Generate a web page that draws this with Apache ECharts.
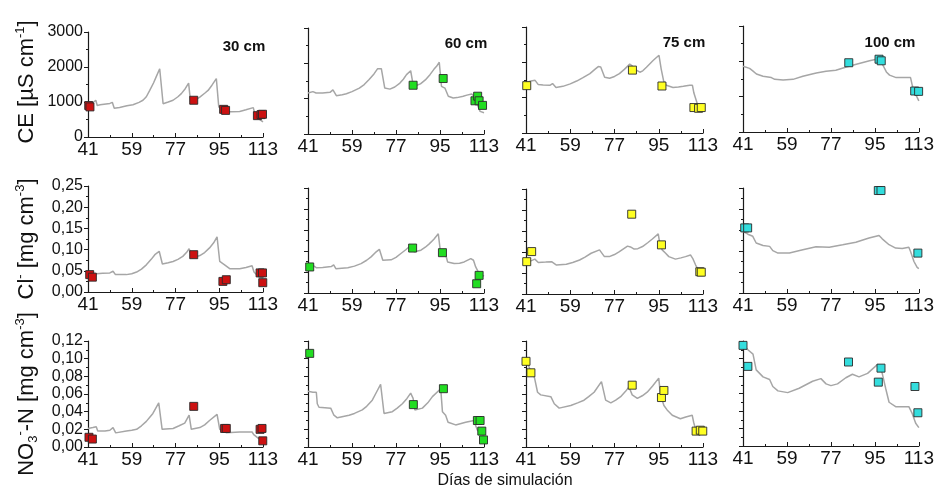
<!DOCTYPE html>
<html><head><meta charset="utf-8">
<script src="https://cdn.jsdelivr.net/npm/echarts@6/dist/echarts.min.js"></script>
<style>html,body{margin:0;padding:0;background:#fff}#c{width:937px;height:488px}</style>
</head><body><div id="c"></div>
<script>
// ---------- axis / tick values ----------
const xMin = 41, xMax = 113;
const xMajorTicks = [41, 59, 77, 95, 113];
const xMinorTicks = [50, 68, 86, 104];
const rowMax = [3000, 0.25, 0.12];
const rowInterval = [1000, 0.05, 0.02];
const depthLabels = ['30 cm', '60 cm', '75 cm', '100 cm'];
const xTitle = 'Días de simulación';

// ---------- CE (µS cm-1) ----------
const simCE30 = [[41,900],[43,980],[44.2,1050],[44.8,900],[46,920],[50,960],[51,990],[51.8,820],[54,840],[57,890],[59.5,920],[62,990],[63.6,1050],[65,1150],[66.4,1330],[68,1550],[69,1710],[70.5,1950],[71.9,950],[74,1000],[76,1050],[78,1150],[79.4,1240],[81,1380],[82.4,1540],[83.2,1000],[85,1050],[87,1140],[89,1250],[90.4,1330],[92,1480],[93.8,1670],[94.8,860],[96.6,760],[98,720],[100,720],[103.4,730],[106,780],[109,840],[109.6,670],[111,530],[113,430]];
const obsCE30 = [[41.3,900],[41.8,860],[84.5,1050],[96.8,790],[97.6,760],[110.7,610],[112.2,640],[112.8,650]];
const simCE60 = [[41,1160],[43,1200],[43.7,1250],[44.3,1160],[47,1160],[50,1180],[51.2,1250],[52.6,1085],[55,1110],[56.7,1140],[59,1200],[62,1300],[64,1400],[66,1540],[68,1700],[69.5,1850],[71,1850],[72.4,1300],[74.5,1270],[76.5,1330],[78.6,1440],[80,1550],[81.3,1680],[83,1790],[84,1400],[85.5,1380],[87,1420],[89,1530],[90.9,1680],[92.5,1830],[93.6,1915],[94.7,2030],[95.6,1350],[97,1300],[97.7,1250],[98.4,1070],[100.4,1020],[102,1030],[104.5,1070],[106,1100],[108,1130],[109,1070],[110,880],[111.4,640],[113,600]];
const obsCE60 = [[84,1380],[96.3,1570],[109.3,940],[110.4,1070],[111,940],[112.4,810]];
const simCE75 = [[41,1420],[43,1470],[44.7,1490],[46,1370],[48,1360],[50.7,1350],[51.8,1400],[53.2,1290],[56,1320],[59,1390],[61.6,1470],[64,1560],[67,1680],[69,1800],[70.4,1880],[71.4,1870],[73,1580],[75,1550],[77,1600],[79,1680],[81,1800],[83.2,1950],[84.2,1900],[85.2,1810],[87.3,1720],[88.5,1760],[90,1860],[92.7,2050],[95.1,2200],[96,1810],[97,1470],[98.1,1350],[100.8,1290],[103,1300],[105,1320],[107.6,1350],[108.7,1350],[109.3,1130],[111,760],[112,690]];
const obsCE75 = [[41.3,1340],[84.3,1780],[96.3,1330],[109.3,720],[111.2,700],[112.3,720]];
const simCE100 = [[41,1860],[43.7,1800],[45,1730],[46.5,1640],[49.2,1580],[52.6,1540],[54,1490],[57.4,1470],[61.5,1490],[65.5,1580],[71,1670],[75,1720],[79,1750],[83.3,1840],[87.4,1920],[92.8,2015],[95.6,2060],[96.9,2035],[98.3,1890],[99.7,1700],[101,1610],[103.7,1540],[107.8,1540],[109.6,1540],[110.3,1320],[111.2,1135],[113,880]];
const obsCE100 = [[84.3,1960],[96.7,2060],[97.6,2015],[111.3,1160],[112.9,1150]];

// ---------- Cl- (mg cm-3) ----------
const simCl30 = [[41,0.042],[43,0.044],[43.7,0.047],[44.5,0.043],[47,0.044],[50,0.045],[51.3,0.049],[52.3,0.041],[56.8,0.041],[59,0.043],[61,0.047],[63,0.054],[65,0.064],[67,0.077],[68.5,0.088],[70.3,0.096],[71.6,0.066],[74,0.069],[76,0.072],[78,0.077],[80,0.084],[81.5,0.093],[82.6,0.102],[84,0.080],[87,0.086],[89,0.093],[91,0.104],[92.7,0.116],[94.1,0.130],[95.2,0.072],[97.2,0.064],[98,0.067],[99.3,0.055],[103.4,0.055],[106,0.058],[108.5,0.062],[109.3,0.047],[111,0.037],[113,0.033]];
const obsCl30 = [[41.7,0.041],[42.8,0.035],[84.5,0.088],[96.5,0.025],[97.9,0.029],[111.8,0.045],[112.8,0.045],[112.9,0.022]];
const simCl60 = [[41,0.066],[43,0.066],[43.7,0.067],[44.5,0.060],[47,0.061],[50.5,0.063],[51.5,0.067],[52.4,0.058],[57.3,0.060],[60,0.064],[62.7,0.070],[65,0.078],[66.8,0.086],[68.5,0.096],[70.2,0.104],[71,0.102],[71.6,0.078],[75,0.079],[77,0.085],[79,0.094],[81,0.103],[82.4,0.110],[83.5,0.106],[84.5,0.098],[87.2,0.102],[89,0.109],[90.6,0.117],[92.5,0.128],[94.3,0.141],[95.1,0.102],[96,0.094],[97.4,0.090],[98.1,0.074],[100.8,0.070],[103,0.071],[104.9,0.074],[107.6,0.082],[108.7,0.078],[109.6,0.062],[111,0.046],[113,0.040]];
const obsCl60 = [[41.7,0.062],[83.8,0.107],[96,0.096],[110,0.022],[111,0.042]];
const simCl75 = [[41,0.075],[43,0.079],[44.6,0.083],[46,0.075],[49,0.076],[51.4,0.077],[52,0.079],[53.4,0.069],[57.4,0.071],[60,0.075],[62.8,0.081],[65,0.088],[67.5,0.097],[70.9,0.105],[71.5,0.103],[72.9,0.089],[74.9,0.089],[77,0.094],[79,0.101],[82.3,0.114],[83.5,0.112],[85,0.107],[86.5,0.108],[88.4,0.113],[90.5,0.122],[92.4,0.131],[94.8,0.143],[95.5,0.117],[96.4,0.105],[97.8,0.097],[99.1,0.089],[101.8,0.083],[104,0.086],[105.9,0.089],[107.9,0.093],[108.8,0.085],[110,0.069],[111.3,0.055],[112.4,0.052]];
const obsCl75 = [[41.3,0.077],[43.3,0.101],[84,0.190],[96.1,0.117],[111.7,0.053],[112.3,0.052]];
const simCl100 = [[41,0.147],[43,0.140],[45,0.135],[46.4,0.119],[49.2,0.113],[51.9,0.111],[53.2,0.101],[55.3,0.095],[60,0.095],[65.5,0.103],[70.9,0.110],[76.3,0.109],[81.8,0.115],[87.2,0.121],[92.6,0.131],[96.7,0.137],[98,0.129],[100.8,0.115],[103.5,0.107],[106.2,0.106],[108.9,0.109],[109.6,0.099],[111,0.075],[112.3,0.061],[113,0.058]];
const obsCl100 = [[41.7,0.155],[42.9,0.155],[96.4,0.244],[97.5,0.244],[112.6,0.095]];

// ---------- NO3-N (mg cm-3) ----------
const simNO30 = [[41,0.021],[43,0.022],[44.4,0.023],[45,0.018],[48,0.018],[50,0.019],[51.3,0.022],[52.4,0.016],[56.8,0.018],[59,0.019],[61,0.020],[63,0.024],[65,0.029],[66.5,0.034],[67.7,0.038],[70.1,0.050],[71.5,0.020],[76,0.021],[78.5,0.024],[80.8,0.027],[82.6,0.036],[83.5,0.020],[87,0.022],[89,0.025],[91,0.030],[94.1,0.037],[95.2,0.020],[98,0.016],[103.4,0.017],[108.5,0.017],[109.2,0.014],[111,0.010],[113,0.009]];
const obsNO30 = [[41.4,0.011],[42.8,0.009],[84.5,0.046],[97.2,0.021],[97.9,0.021],[111.8,0.020],[112.6,0.021],[112.9,0.007]];
const simNO60 = [[41,0.063],[43,0.062],[44.4,0.062],[44.8,0.049],[45.5,0.045],[50.3,0.044],[51,0.043],[51.6,0.036],[53,0.033],[57.8,0.036],[60,0.038],[63.2,0.042],[65,0.046],[67.3,0.053],[69,0.062],[70.7,0.071],[72.1,0.038],[75.5,0.040],[77.5,0.044],[79.6,0.049],[81.5,0.055],[83,0.061],[84,0.055],[84.7,0.042],[87.8,0.044],[90,0.050],[91.9,0.057],[95.3,0.066],[96,0.040],[97.3,0.036],[98.3,0.028],[101.4,0.025],[105.5,0.028],[108.9,0.030],[109.5,0.025],[110.3,0.019],[112.4,0.014],[113,0.014]];
const obsNO60 = [[41.7,0.106],[84.1,0.048],[96.4,0.066],[110.3,0.030],[111.4,0.030],[112.1,0.018],[112.8,0.008]];
const simNO75 = [[41,0.100],[43,0.085],[44.4,0.079],[45.7,0.062],[47,0.059],[51.1,0.057],[52.5,0.049],[54.5,0.044],[59.2,0.047],[62,0.050],[64.6,0.053],[66.5,0.057],[68.7,0.062],[71.7,0.074],[73.4,0.053],[75.5,0.050],[77.5,0.053],[79.5,0.057],[81.5,0.063],[82.9,0.068],[84.2,0.059],[86.3,0.055],[88.3,0.058],[90.3,0.062],[92.5,0.069],[95,0.078],[95.7,0.059],[97.1,0.047],[98.4,0.042],[100.5,0.036],[103.8,0.032],[106,0.034],[108.6,0.036],[109.2,0.028],[109.9,0.021],[112,0.017]];
const obsNO75 = [[41,0.097],[43,0.084],[84.2,0.070],[96.1,0.056],[97.1,0.064],[110.2,0.018],[111.9,0.019],[112.9,0.018]];
const simNO100 = [[41,0.116],[43,0.110],[45.1,0.105],[46.4,0.087],[49.2,0.079],[51.9,0.076],[53.2,0.068],[55.3,0.063],[59.3,0.061],[64,0.066],[69.5,0.074],[72.9,0.077],[75,0.071],[77,0.069],[79.7,0.071],[83.1,0.078],[85.8,0.082],[88.5,0.079],[92,0.083],[96,0.093],[97,0.092],[98,0.083],[99.4,0.066],[100.8,0.050],[103.5,0.045],[108.9,0.045],[109.6,0.047],[110.3,0.037],[111.7,0.026],[113,0.021]];
const obsNO100 = [[41,0.115],[43,0.091],[84.2,0.096],[96.4,0.073],[97.5,0.089],[111.4,0.068],[112.6,0.038]];

const simData = [[simCE30, simCE60, simCE75, simCE100],[simCl30, simCl60, simCl75, simCl100],[simNO30, simNO60, simNO75, simNO100]];
const obsData = [[obsCE30, obsCE60, obsCE75, obsCE100],[obsCl30, obsCl60, obsCl75, obsCl100],[obsNO30, obsNO60, obsNO75, obsNO100]];
const obsColors = ['#cc1111', '#22dd22', '#ffff22', '#33dddd'];

// ---------- layout ----------
const colLeft = [88, 308, 526, 743];
const colWidth = [175, 176, 177, 177];
const rowTop = [[32, 28, 27, 26], [186, 188, 189, 188], [341, 341, 341, 341]];
const rowBottom = [[137, 134, 133, 132], [292, 293, 294, 293], [447, 447, 447, 446]];
const FONT = '"Liberation Sans", Arial, sans-serif';
const AX = '#1a1a1a';

const grids = [], xAxes = [], yAxes = [], series = [];
const minorX = [];
for (let r = 0; r < 3; r++) {
  for (let c = 0; c < 4; c++) {
    const i = r * 4 + c;
    grids.push({left: colLeft[c], width: colWidth[c], top: rowTop[r][c], height: rowBottom[r][c] - rowTop[r][c]});
    xAxes.push({
      type: 'value', gridIndex: i, min: xMin, max: xMax,
      splitLine: {show: false},
      axisLine: {lineStyle: {color: AX, width: 1.2}},
      axisTick: {inside: true, length: 4, customValues: xMajorTicks, lineStyle: {color: AX}},
      axisLabel: {customValues: xMajorTicks, fontSize: 19, fontFamily: FONT, color: '#111', margin: 3},
    });
    minorX.push({
      type: 'value', gridIndex: i, min: xMin, max: xMax, position: 'bottom',
      splitLine: {show: false}, axisLine: {show: false}, axisLabel: {show: false},
      axisTick: {inside: true, length: 2, customValues: xMinorTicks, lineStyle: {color: AX}},
    });
    yAxes.push({
      type: 'value', gridIndex: i, min: 0, max: rowMax[r], interval: rowInterval[r],
      splitLine: {show: false},
      axisLine: {show: true, lineStyle: {color: AX, width: 1.2}},
      axisTick: {show: true, length: 4, lineStyle: {color: AX}},
      minorTick: {show: true, splitNumber: 2, length: 2, lineStyle: {color: AX}},
      axisLabel: {
        show: c === 0, fontSize: 16, fontFamily: FONT, color: '#111', margin: 5,
        formatter: v => r === 0 ? String(Math.round(v)) : v.toFixed(2).replace('.', ',')
      }
    });
    series.push({
      type: 'line', xAxisIndex: i, yAxisIndex: i, data: simData[r][c],
      symbol: 'none', lineStyle: {color: '#a6a6a6', width: 1.5}, z: 2, silent: true
    });
    series.push({
      type: 'scatter', xAxisIndex: i, yAxisIndex: i, data: obsData[r][c],
      symbol: 'rect', symbolSize: 8, clip: false,
      itemStyle: {color: obsColors[c], borderColor: '#2a2a2a', borderWidth: 0.9, opacity: 1}, z: 3
    });
  }
}

const graphics = [];
const depthPos = [[244, 47], [466, 44], [684, 43], [890, 43]];
depthLabels.forEach((t, k) => graphics.push({
  type: 'text', x: depthPos[k][0], y: depthPos[k][1],
  style: {text: t, font: 'bold 15px ' + FONT, fill: '#111', align: 'center', verticalAlign: 'middle'}
}));
const rich = {
  a: {fontSize: 22, fontFamily: FONT, fill: '#111', color: '#111', lineHeight: 26},
  p: {fontSize: 13, fontFamily: FONT, color: '#111', lineHeight: 14, verticalAlign: 'top'},
  b: {fontSize: 13, fontFamily: FONT, color: '#111', lineHeight: 14, verticalAlign: 'bottom'}
};
const rowTitles = [
  ['{a|CE [µS cm}{p|-1}{a|]}', 27, 82],
  ['{a|Cl}{p|-}{a| [mg cm}{p|-3}{a|]}', 27, 239],
  ['{a|NO}{b|3}{p|-}{a|-N [mg cm}{p|-3}{a|]}', 27, 394]
];
rowTitles.forEach(t => graphics.push({
  type: 'text', x: t[1], y: t[2], rotation: Math.PI / 2,
  style: {text: t[0], rich: rich, align: 'center', verticalAlign: 'middle', fill: '#111'}
}));
graphics.push({
  type: 'text', x: 505, y: 481,
  style: {text: xTitle, font: '16px ' + FONT, fill: '#111', align: 'center', verticalAlign: 'middle'}
});

const chart = echarts.init(document.getElementById('c'), null, {renderer: 'canvas'});
chart.setOption({
  animation: false,
  backgroundColor: '#fff',
  grid: grids,
  xAxis: xAxes.concat(minorX),
  yAxis: yAxes,
  series: series,
  graphic: graphics
});
</script></body></html>
